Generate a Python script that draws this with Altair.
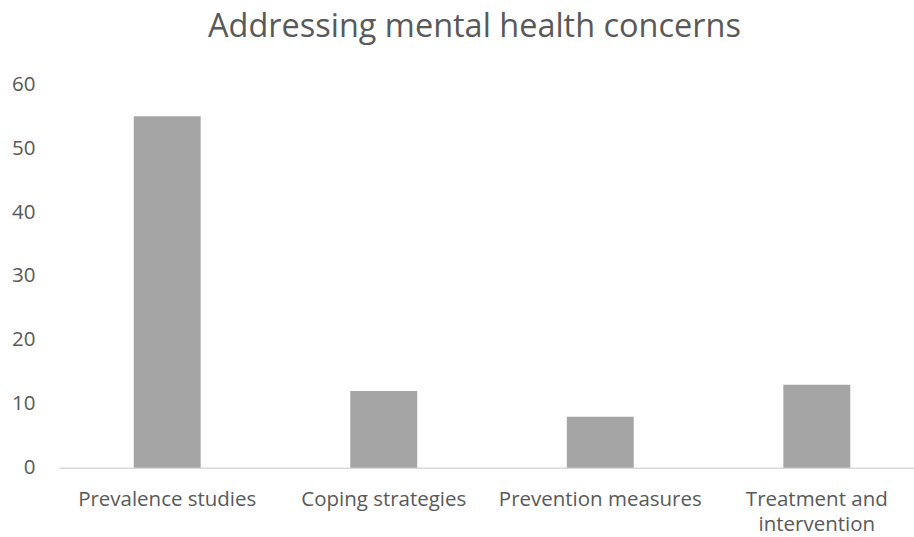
import altair as alt
import pandas as pd

categories = ["Prevalence studies", "Coping strategies", "Prevention measures", "Treatment and intervention"]
values = [55, 12, 8, 13]
y_ticks = [0, 10, 20, 30, 40, 50, 60]

df = pd.DataFrame({"category": categories, "value": values})

FONT = "Open Sans"
TEXT = "#595959"

chart = alt.Chart(df).mark_bar(color="#A5A5A5").encode(
    x=alt.X(
        "category:N",
        sort=categories,
        title=None,
        scale=alt.Scale(paddingInner=0.691, paddingOuter=0.32, align=0.54),
        axis=alt.Axis(
            labelAngle=0,
            labelFont=FONT,
            labelFontSize=20.5,
            labelColor=TEXT,
            labelPadding=22,
            labelBaseline="top",
            labelLineHeight=25,
            labelLimit=400,
            labelOverlap=False,
            labelExpr="datum.value == 'Treatment and intervention' ? ['Treatment and', 'intervention'] : datum.value",
            ticks=False,
            domainColor="#D9D9D9",
            domainWidth=1.5,
            grid=False,
        ),
    ),
    y=alt.Y(
        "value:Q",
        title=None,
        scale=alt.Scale(domain=[0, 60], nice=False),
        axis=alt.Axis(
            values=y_ticks,
            labelFont=FONT,
            labelFontSize=20.5,
            labelColor=TEXT,
            labelPadding=24,
            ticks=False,
            domain=False,
            grid=False,
        ),
    ),
).properties(
    width=856,
    height=384,
    title=alt.TitleParams(
        "Addressing mental health concerns",
        font=FONT,
        fontSize=32.5,
        fontWeight="normal",
        color=TEXT,
        anchor="middle",
        frame="group",
        dx=-12,
        offset=31,
    ),
).configure(
    padding={"left": 11, "top": 10, "right": 0, "bottom": 0}
).configure_view(strokeWidth=0, stroke="transparent")

chart.save("out.html", embed_options={"renderer": "svg", "actions": False})
